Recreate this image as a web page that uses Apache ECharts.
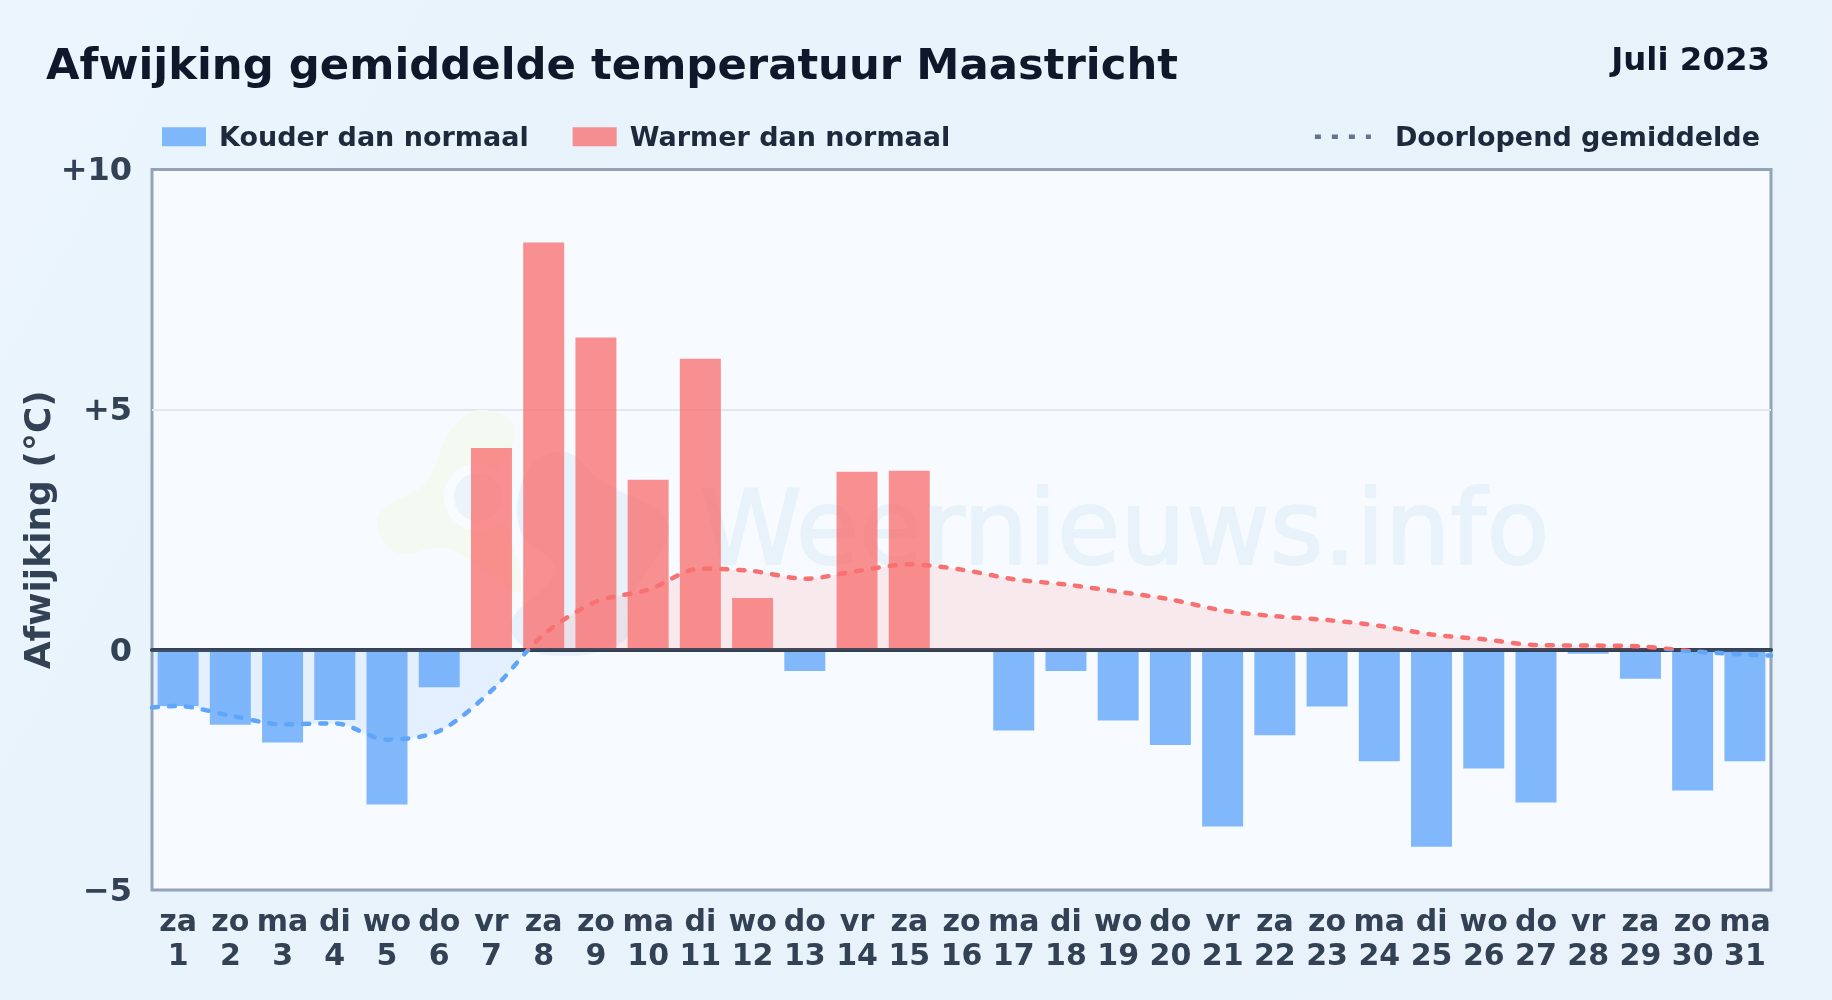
<!DOCTYPE html>
<html><head><meta charset="utf-8">
<style>html,body{margin:0;padding:0;background:#e9f3fc}#c{width:1832px;height:1000px}</style>
<script src="https://cdn.jsdelivr.net/npm/echarts@6/dist/echarts.min.js"></script>
</head><body><div id="c"></div>
<script>
const weekdays=['za','zo','ma','di','wo','do','vr','za','zo','ma','di','wo','do','vr','za','zo','ma','di','wo','do','vr','za','zo','ma','di','wo','do','vr','za','zo','ma'];
const dayNumbers=[1,2,3,4,5,6,7,8,9,10,11,12,13,14,15,16,17,18,19,20,21,22,23,24,25,26,27,28,29,30,31];
const deviations=[-1.17,-1.56,-1.93,-1.46,-3.22,-0.78,4.2,8.48,6.5,3.54,6.06,1.08,-0.44,3.71,3.73,0,-1.68,-0.44,-1.47,-1.98,-3.68,-1.78,-1.18,-2.32,-4.1,-2.47,-3.18,-0.08,-0.6,-2.93,-2.32];
const runningMean=[-1.17,-1.37,-1.55,-1.53,-1.87,-1.69,-0.85,0.32,1.0,1.25,1.69,1.64,1.48,1.64,1.78,1.67,1.47,1.36,1.21,1.05,0.82,0.70,0.62,0.50,0.32,0.22,0.10,0.09,0.07,-0.03,-0.10];
const lineStartX=0.5, lineStartValue=-1.2, lineEndX=31.5, lineEndValue=-0.12;
const yTicks={'10':'+10','5':'+5','0':'0','-5':'\u22125'};
const yMin=-5, yMax=10;
const font='DejaVu Sans';
const cold=deviations.map(v=>v<0?v:null);
const warm=deviations.map(v=>v>0?v:null);
const lineData=[[lineStartX,lineStartValue],...runningMean.map((v,i)=>[dayNumbers[i],v]),[lineEndX,lineEndValue]];
const zeroStop=yMax/(yMax-yMin);
const plotTop=169.5, plotBottom=890;
const signGradient={type:'linear',global:true,x:0,y:plotTop,x2:0,y2:plotBottom,colorStops:[
 {offset:0,color:'#f87171'},{offset:zeroStop,color:'#f87171'},{offset:zeroStop,color:'#60a5fa'},{offset:1,color:'#60a5fa'}]};
const legendText=(left)=>({fontFamily:font,fontWeight:'bold',fontSize:27,color:'#1e293b',rich:{a:{fontFamily:font,fontWeight:'bold',fontSize:27,color:'#1e293b',padding:[4,0,0,left]}}});
const chart=echarts.init(document.getElementById('c'),null,{renderer:'canvas'});
chart.setOption({
 animation:false,
 backgroundColor:{type:'linear',x:0,y:0,x2:1,y2:1,colorStops:[{offset:0,color:'#ecf5fd'},{offset:0.25,color:'#e8f3fc'},{offset:1,color:'#e9f2fb'}]},
 title:[
  {text:'Afwijking gemiddelde temperatuur Maastricht',left:46,top:46,padding:0,textStyle:{fontFamily:font,fontWeight:'bold',fontSize:43.35,color:'#0f172a'}},
  {text:'Juli 2023',right:62,top:45.5,padding:0,textStyle:{fontFamily:font,fontWeight:'bold',fontSize:32.4,color:'#0f172a'}}
 ],
 legend:[
  {left:162,top:125.3,padding:0,itemWidth:44,itemHeight:19,itemGap:44,icon:'rect',selectedMode:false,
   data:['Kouder dan normaal','Warmer dan normaal'],formatter:n=>'{a|'+n+'}',textStyle:legendText(8)},
  {right:72,top:125.3,padding:0,itemWidth:56,itemHeight:19,selectedMode:false,
   data:[{name:'Doorlopend gemiddelde',itemStyle:{opacity:0},lineStyle:{color:'#64748b',width:4.5,type:[6,11],cap:'butt'}}],
   formatter:n=>'{a|'+n+'}',textStyle:legendText(19)}
 ],
 grid:{left:152,right:61,top:plotTop,bottom:1000-plotBottom,show:true,backgroundColor:'#f7fbff',borderColor:'#94a3b8',borderWidth:3},
 xAxis:[
  {type:'category',position:'bottom',data:dayNumbers.map((d,i)=>weekdays[i]+'\n'+d),
   axisLine:{show:false,onZero:false},axisTick:{show:false},splitLine:{show:false},
   axisLabel:{interval:0,margin:16,lineHeight:34,fontFamily:font,fontWeight:'bold',fontSize:30,color:'#334155'}},
  {type:'value',min:lineStartX,max:lineEndX,position:'bottom',z:3,
   axisLine:{show:true,onZero:true,lineStyle:{color:'#334155',width:4}},
   axisTick:{show:false},axisLabel:{show:false},splitLine:{show:false}}
 ],
 yAxis:{type:'value',min:yMin,max:yMax,interval:5,name:'Afwijking (°C)',nameLocation:'middle',nameGap:93,nameRotate:90,nameMoveOverlap:false,
  nameTextStyle:{fontFamily:font,fontWeight:'bold',fontSize:36,color:'#334155'},
  axisLine:{show:false},axisTick:{show:false},
  splitLine:{show:true,showMinLine:false,showMaxLine:false,lineStyle:{color:'#e2e8f0',width:2}},
  axisLabel:{margin:20,fontFamily:font,fontWeight:'bold',fontSize:32,color:'#334155',formatter:v=>'{t|'+yTicks[String(v)]+'}',
   rich:{t:{fontFamily:font,fontWeight:'bold',fontSize:32,color:'#334155',padding:[5,0,0,0]}}}},
 series:[
  {name:'Kouder dan normaal',type:'bar',xAxisIndex:0,data:cold,barWidth:41,barGap:'-100%',z:2,itemStyle:{color:'#60a5fa',opacity:0.78}},
  {name:'Warmer dan normaal',type:'bar',xAxisIndex:0,data:warm,barWidth:41,barGap:'-100%',z:2,itemStyle:{color:'#f87171',opacity:0.78}},
  {name:'Doorlopend gemiddelde',type:'line',xAxisIndex:1,data:lineData,smooth:0.3,symbol:'none',z:4,
   lineStyle:{width:4.5,color:signGradient,type:[6,11],cap:'round'},areaStyle:{color:signGradient,opacity:0.13}}
 ],
 graphic:[
  {type:'polygon',silent:true,z:1,shape:{smooth:0.4,points:[[450,432],[480,410],[515,428],[498,480],[520,590],[470,560],[445,548],[395,552],[378,515],[425,483]]},style:{fill:'#f4faf1'}},
  {type:'circle',silent:true,z:1,shape:{cx:478,cy:497,r:34},style:{fill:'#f8fbff'}},
  {type:'circle',silent:true,z:1,shape:{cx:478,cy:497,r:24},style:{fill:'#ebf3fb'}},
  {type:'polygon',silent:true,z:1,shape:{smooth:0.4,points:[[528,470],[565,452],[600,480],[668,525],[630,600],[625,640],[545,655],[510,625],[555,570],[520,530]]},style:{fill:'#e8f1fb'}},
  {type:'text',silent:true,z:1,x:700,y:537,style:{text:'Weernieuws.info',font:'103px "DejaVu Sans"',fill:'#e8f2fb',stroke:'#e8f2fb',lineWidth:2,verticalAlign:'middle'}}
 ]
});
</script></body></html>
